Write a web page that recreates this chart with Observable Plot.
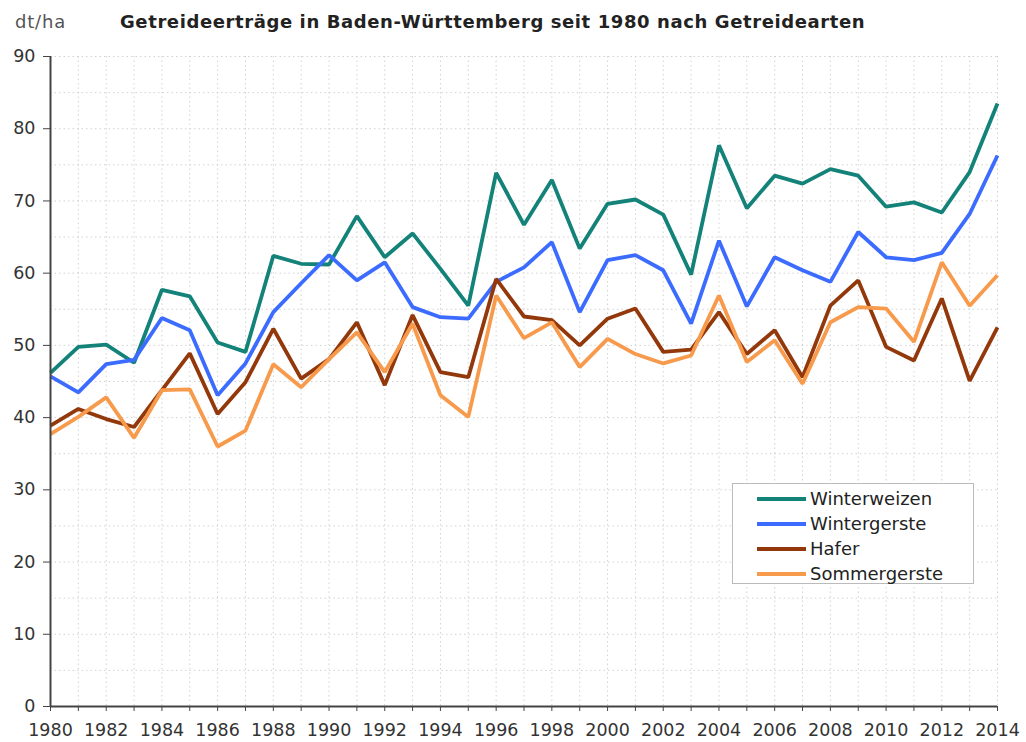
<!DOCTYPE html>
<html><head><meta charset="utf-8">
<script src="https://cdn.jsdelivr.net/npm/d3@7"></script>
<script src="https://cdn.jsdelivr.net/npm/@observablehq/plot@0.6"></script>
<style>
body{margin:0;background:#fff;font-family:"DejaVu Sans",Verdana,sans-serif;}
#wrap{position:relative;width:1026px;height:742px;overflow:hidden;background:#fff;}
#title{position:absolute;left:120px;top:11px;font-weight:bold;font-size:18px;letter-spacing:0.6px;color:#222;white-space:nowrap;}
#unit{position:absolute;left:15px;top:11px;font-size:18px;letter-spacing:0.8px;color:#555;}
#legend{position:absolute;left:732px;top:483px;width:240px;height:99px;border:1px solid #bbb;background:#fff;}
.item{position:absolute;left:24px;height:25px;display:flex;align-items:center;font-size:18px;color:#222;white-space:nowrap;}
.sw{width:49px;height:4px;margin-right:4px;}
</style></head>
<body>
<div id="wrap">
  <div id="chart"></div>
  <div id="unit">dt/ha</div>
  <div id="title">Getreideerträge in Baden-Württemberg seit 1980 nach Getreidearten</div>
  <div id="legend"></div>
</div>
<script>
const years = [1980,1981,1982,1983,1984,1985,1986,1987,1988,1989,1990,1991,1992,1993,1994,1995,1996,1997,1998,1999,2000,2001,2002,2003,2004,2005,2006,2007,2008,2009,2010,2011,2012,2013,2014];
const winterweizen = [46.2,49.8,50.1,47.6,57.7,56.8,50.4,49.1,62.4,61.3,61.2,67.9,62.2,65.5,60.6,55.5,73.9,66.7,72.9,63.4,69.6,70.2,68.1,59.8,77.7,69.0,73.5,72.4,74.4,73.5,69.2,69.8,68.4,74.0,83.5];
const wintergerste = [45.7,43.5,47.4,48.0,53.8,52.1,43.1,47.5,54.6,58.6,62.5,59.0,61.5,55.3,53.9,53.7,58.8,60.8,64.3,54.6,61.8,62.5,60.4,53.0,64.5,55.4,62.2,60.4,58.8,65.7,62.2,61.8,62.8,68.2,76.3];
const hafer = [38.9,41.2,39.8,38.7,43.8,48.9,40.5,44.9,52.3,45.4,48.1,53.2,44.5,54.2,46.3,45.6,59.2,54.0,53.5,50.0,53.7,55.1,49.1,49.4,54.6,48.8,52.1,45.6,55.5,59.0,49.8,47.9,56.5,45.1,52.5];
const sommergerste = [37.7,40.1,42.8,37.2,43.8,43.9,36.0,38.2,47.4,44.2,48.1,51.8,46.3,53.0,43.1,40.1,56.9,51.0,53.2,47.0,50.9,48.8,47.5,48.6,56.9,47.7,50.7,44.7,53.2,55.3,55.1,50.5,61.5,55.5,59.7];
const seriesNames = ["Winterweizen","Wintergerste","Hafer","Sommergerste"];
const seriesValues = [winterweizen, wintergerste, hafer, sommergerste];
const seriesColors = ["#138278","#3c6cff","#93380b","#f79a4c"];
const yTicks = [0,10,20,30,40,50,60,70,80,90];
const yGrid = [5,10,15,20,25,30,35,40,45,50,55,60,65,70,75,80,85,90];
const xLabelYears = [1980,1982,1984,1986,1988,1990,1992,1994,1996,1998,2000,2002,2004,2006,2008,2010,2012,2014];

const rows = [];
seriesNames.forEach((name, i) => {
  years.forEach((yr, j) => rows.push({series: name, year: yr, value: seriesValues[i][j]}));
});

const chart = Plot.plot({
  width: 1026,
  height: 742,
  marginLeft: 50,
  marginRight: 29,
  marginTop: 56,
  marginBottom: 36,
  style: {fontFamily: "DejaVu Sans, Verdana, sans-serif", fontSize: "17px", color: "#333", background: "#fff"},
  x: {type: "linear", domain: [years[0], years[years.length - 1]]},
  y: {domain: [0, 90]},
  color: {domain: seriesNames, range: seriesColors},
  marks: [
    Plot.gridY(yGrid, {stroke: "#d2d2d2", strokeOpacity: 1, strokeDasharray: "1.5,3"}),
    Plot.gridX(years.slice(1), {stroke: "#d2d2d2", strokeOpacity: 1, strokeDasharray: "1.5,3"}),
    Plot.line(rows, {x: "year", y: "value", z: "series", stroke: "series", strokeWidth: 3.8, strokeLinejoin: "miter", strokeLinecap: "butt"}),
    Plot.ruleY([0], {stroke: "#444", strokeWidth: 2}),
    Plot.ruleX([years[0]], {stroke: "#444", strokeWidth: 2}),
    Plot.axisY(yTicks, {tickSize: 7, tickPadding: 8, fontSize: 17.5, color: "#333", stroke: "#444", label: null}),
    Plot.axisX(years, {tickSize: 5, tickPadding: 12, fontSize: 17.5, color: "#333", stroke: "#444", label: null,
      tickFormat: d => xLabelYears.includes(d) ? String(d) : ""})
  ]
});
document.getElementById("chart").appendChild(chart);

const legend = document.getElementById("legend");
seriesNames.forEach((name, i) => {
  const it = document.createElement("div");
  it.className = "item";
  it.style.top = (2 + i * 25) + "px";
  const sw = document.createElement("span");
  sw.className = "sw";
  sw.style.background = seriesColors[i];
  const t = document.createElement("span");
  t.textContent = name;
  it.appendChild(sw); it.appendChild(t);
  legend.appendChild(it);
});
</script>
</body></html>
